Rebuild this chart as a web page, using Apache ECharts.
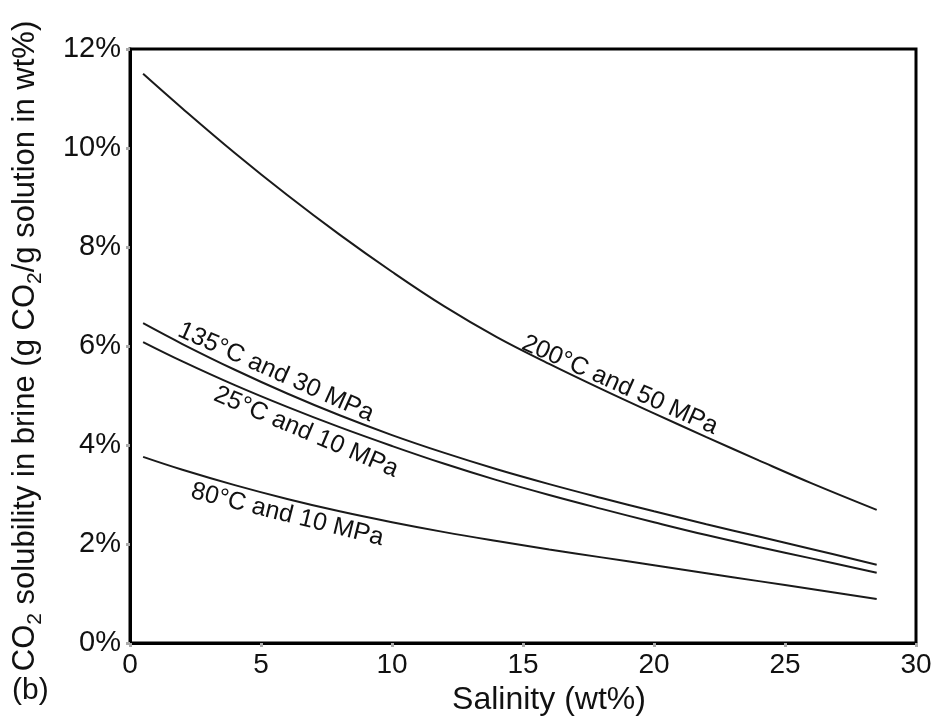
<!DOCTYPE html>
<html>
<head>
<meta charset="utf-8">
<script src="https://cdn.jsdelivr.net/npm/echarts@6/dist/echarts.min.js"></script>
<style>
html, body { margin: 0; padding: 0; background: #fff; }
#main { width: 940px; height: 719px; }
</style>
</head>
<body>
<div id="main"></div>
<script>
// salinity (wt%) and CO2 solubility (wt%)
var salinity = [0.5, 2, 4, 6, 8, 10, 12, 14, 16, 18, 20, 22, 24, 26, 28.5];
var sol200 = [11.5, 10.8, 9.9, 9.05, 8.25, 7.5, 6.8, 6.18, 5.64, 5.13, 4.64, 4.16, 3.69, 3.23, 2.69];
var sol135 = [6.46, 6.04, 5.52, 5.04, 4.6, 4.2, 3.84, 3.51, 3.21, 2.93, 2.66, 2.4, 2.15, 1.9, 1.58];
var sol25 = [6.08, 5.69, 5.21, 4.77, 4.36, 3.98, 3.62, 3.29, 2.99, 2.71, 2.44, 2.18, 1.94, 1.71, 1.42];
var sol80 = [3.76, 3.5, 3.19, 2.91, 2.66, 2.44, 2.24, 2.06, 1.89, 1.73, 1.57, 1.41, 1.25, 1.09, 0.89];

var curveNames = ['200°C and 50 MPa', '135°C and 30 MPa', '25°C and 10 MPa', '80°C and 10 MPa'];
// where each curve label sits (salinity, solubility) and its slant in degrees
var labelAt = [[18.7, 5.21], [5.57, 5.47], [6.72, 4.26], [6.0, 2.59]];
var labelAngle = [-24, -24, -23, -14];

var font = '"Liberation Sans", Arial, sans-serif';

function pairs(ys) {
	var out = [];
	for (var i = 0; i < salinity.length; i++) {
		out.push([salinity[i], ys[i]]);
	}
	return out;
}

var chart = echarts.init(document.getElementById('main'));

var allSeries = [sol200, sol135, sol25, sol80];
var series = [];
for (var i = 0; i < allSeries.length; i++) {
	series.push({
		name: curveNames[i],
		type: 'line',
		data: pairs(allSeries[i]),
		smooth: 0.4,
		showSymbol: false,
		lineStyle: { color: '#1a1a1a', width: 2 },
		silent: true
	});
}

option = {
	animation: false,
	backgroundColor: '#fff',
	grid: {
		left: 130,
		right: 24,
		top: 49,
		bottom: 76,
		outerBoundsMode: 'none',
		show: true,
		borderColor: '#000',
		borderWidth: 3
	},
	xAxis: {
		type: 'value',
		min: 0,
		max: 30,
		interval: 5,
		name: 'Salinity (wt%)',
		nameLocation: 'middle',
		nameGap: 30,
		nameTextStyle: { fontFamily: font, fontSize: 32, color: '#111', padding: [0, 0, 0, 52] },
		axisLine: { lineStyle: { color: '#000', width: 3 } },
		axisTick: { length: 4, lineStyle: { color: '#aaa', width: 3 } },
		axisLabel: { fontFamily: font, fontSize: 28, color: '#111', margin: 8 },
		splitLine: { show: false }
	},
	yAxis: {
		type: 'value',
		min: 0,
		max: 12,
		interval: 2,
		name: '{n|CO}{s|2}{n| solubility in brine (g CO}{s|2}{n|/g solution in wt%)}',
		nameLocation: 'middle',
		nameGap: 84,
		nameTextStyle: {
			fontFamily: font,
			color: '#111',
			rich: {
				n: { fontFamily: font, fontSize: 31, color: '#111', lineHeight: 42, verticalAlign: 'middle' },
				s: { fontFamily: font, fontSize: 21, color: '#111', lineHeight: 21, verticalAlign: 'bottom' }
			}
		},
		axisLine: { lineStyle: { color: '#000', width: 3 } },
		axisTick: { length: 4, lineStyle: { color: '#aaa', width: 3 } },
		axisLabel: { fontFamily: font, fontSize: 29, color: '#111', margin: 9, formatter: '{value}%' },
		splitLine: { show: false }
	},
	series: series
};
chart.setOption(option);

// curve labels placed through the axes, then slanted along the lines
var texts = [];
for (var i = 0; i < curveNames.length; i++) {
	var p = chart.convertToPixel({ gridIndex: 0 }, labelAt[i]);
	texts.push({
		type: 'text',
		x: p[0],
		y: p[1],
		rotation: labelAngle[i] * Math.PI / 180,
		silent: true,
		style: {
			text: curveNames[i],
			fontFamily: font,
			fontSize: 25,
			fill: '#111',
			align: 'center',
			verticalAlign: 'middle'
		}
	});
}
texts.push({
	type: 'text',
	left: 12,
	top: 676,
	style: { text: '(b)', fontFamily: font, fontSize: 30, fill: '#111' }
});
chart.setOption({ graphic: texts });
</script>
</body>
</html>
